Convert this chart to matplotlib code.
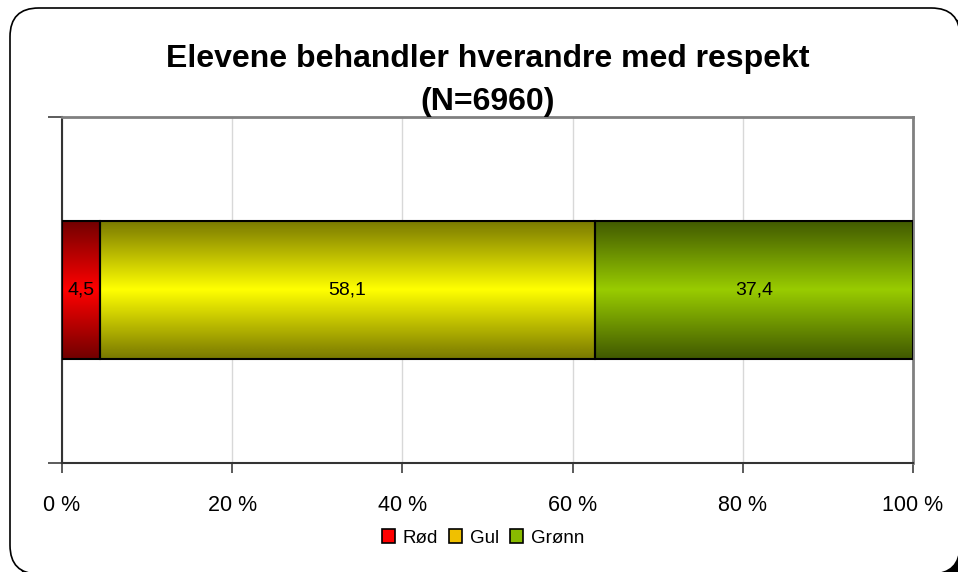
import numpy as np
import matplotlib.pyplot as plt
from matplotlib.colors import to_rgb
from matplotlib.patches import FancyBboxPatch, Patch

plt.rcParams["font.family"] = ["Liberation Sans", "DejaVu Sans"]

categories = ["Rød", "Gul", "Grønn"]
values = [4.5, 58.1, 37.4]
labels = ["4,5", "58,1", "37,4"]
xticks = [0, 20, 40, 60, 80, 100]
xtick_labels = ["0 %", "20 %", "40 %", "60 %", "80 %", "100 %"]

# gradient colours: (edge, centre) per segment
grad = [("#700000", "#ff0000"), ("#787800", "#ffff00"), ("#405800", "#99cc00")]
legend_colors = ["#ff0000", "#f0c000", "#88bb00"]

fig = plt.figure(figsize=(9.58, 5.72), dpi=100)

# rounded frame with shadow
W, H = 958, 572
shadow = FancyBboxPatch((18 / W, -10 / H), 950 / W, 566 / H,
                        boxstyle="round,pad=0,rounding_size=0.03",
                        transform=fig.transFigure, facecolor="black",
                        edgecolor="black", zorder=0, mutation_aspect=W / H)
frame = FancyBboxPatch((10 / W, -2 / H), 950 / W, 566 / H,
                       boxstyle="round,pad=0,rounding_size=0.03",
                       transform=fig.transFigure, facecolor="white",
                       edgecolor="black", linewidth=1.2, zorder=1,
                       mutation_aspect=W / H)
fig.patches.extend([shadow, frame])

ax = fig.add_axes([62 / W, 1 - 463 / H, 851 / W, 346 / H])
ax.set_zorder(2)
ax.patch.set_alpha(0)

bar_h = 0.4
left = 0
for v, lab, (c_edge, c_mid) in zip(values, labels, grad):
    t = np.linspace(0, 1, 256)
    prof = 1 - np.abs(t - 0.5) * 2
    ce = np.array(to_rgb(c_edge))
    cm = np.array(to_rgb(c_mid))
    img = ce[None, :] + (cm - ce)[None, :] * prof[:, None]
    ax.imshow(img[:, None, :], extent=[left, left + v, -bar_h / 2, bar_h / 2],
              aspect="auto", interpolation="bilinear", zorder=2)
    ax.barh(0, v, left=left, height=bar_h, facecolor="none",
            edgecolor="black", linewidth=1.5, zorder=3)
    ax.text(left + v / 2, 0, lab, ha="center", va="center", fontsize=14,
            zorder=4)
    left += v

ax.set_xlim(0, 100)
ax.set_ylim(-0.5, 0.5)
ax.set_xticks(xticks)
ax.set_xticklabels(xtick_labels, fontsize=15.5)
ax.set_yticks([-0.5, 0.5])
ax.set_yticklabels([])
ax.tick_params(axis="x", length=7, width=1.2, color="#404040", pad=16)
ax.tick_params(axis="y", length=10, width=1.2, color="#404040")
ax.grid(axis="x", color="#d8d8d8", linewidth=1)
ax.set_axisbelow(True)
for s in ["left", "bottom"]:
    ax.spines[s].set_color("#333333")
    ax.spines[s].set_linewidth(1.5)
for s in ["top", "right"]:
    ax.spines[s].set_color("#808080")
    ax.spines[s].set_linewidth(2)

ax.set_title("Elevene behandler hverandre med respekt\n(N=6960)",
             fontsize=23, fontweight="bold", pad=5, linespacing=1.55)

handles = [Patch(facecolor=c, edgecolor="black", linewidth=1.2)
           for c in legend_colors]
fig.legend(handles, categories, loc="center", bbox_to_anchor=(483 / W, 1 - 538 / H),
           ncol=3, frameon=False, fontsize=13.5, handlelength=0.7,
           handleheight=0.7, handletextpad=0.4, columnspacing=0.6)

fig.savefig("out.png", dpi=100)
